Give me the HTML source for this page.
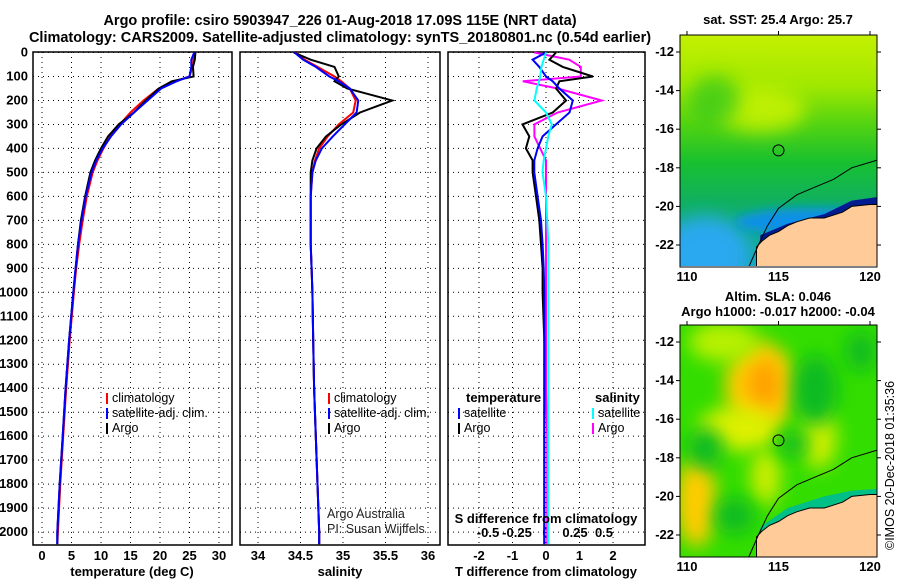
<!DOCTYPE html>
<html><head><meta charset="utf-8"><style>
body{margin:0;background:#fff}
svg{display:block;font-family:"Liberation Sans",sans-serif}
.t{font-weight:bold;font-size:13px}
.n{font-size:12.5px}
</style></head><body>
<svg id="s" width="900" height="580" viewBox="0 0 900 580">
<defs>
<filter id="bl" x="-50%" y="-50%" width="200%" height="200%"><feGaussianBlur stdDeviation="9"/></filter>
<filter id="bl2" x="-50%" y="-50%" width="200%" height="200%"><feGaussianBlur stdDeviation="5"/></filter>
<clipPath id="c1"><rect x="680" y="35" width="197" height="231"/></clipPath>
<clipPath id="c2"><rect x="680" y="325" width="197" height="232"/></clipPath>
<linearGradient id="sst" x1="0" y1="0" x2="0" y2="1">
<stop offset="0" stop-color="#c4f000"/><stop offset="0.22" stop-color="#a0e800"/><stop offset="0.38" stop-color="#55d410"/><stop offset="0.55" stop-color="#18c030"/><stop offset="0.72" stop-color="#10b060"/><stop offset="1" stop-color="#10a8b0"/>
</linearGradient>
</defs>
<text class="t" x="340" y="25" text-anchor="middle" style="font-size:14.5px">Argo profile: csiro 5903947_226 01-Aug-2018 17.09S 115E (NRT data)</text>
<text class="t" x="340" y="42" text-anchor="middle" style="font-size:14.5px">Climatology: CARS2009. Satellite-adjusted climatology: synTS_20180801.nc (0.54d earlier)</text>
<g id="g"></g>
</svg>
<script>
const depths=[0,30,60,100,120,150,200,250,300,350,400,450,500,600,700,800,900,1000,1200,1400,1600,1800,2000,2050];
const tClim=[25.8,25.7,25.5,25.0,22.5,19.8,17.2,15.0,13.2,11.6,10.4,9.4,8.6,7.6,6.9,6.3,5.8,5.4,4.7,4.1,3.6,3.1,2.7,2.6];
const tSat=[25.8,25.3,25.3,25.0,22.8,20.2,17.9,15.6,13.4,11.7,10.3,9.2,8.4,7.4,6.7,6.1,5.7,5.3,4.6,4.0,3.5,3.0,2.6,2.6];
const tArgo=[26.0,25.9,25.6,25.7,22.0,19.8,17.6,15.6,13.0,11.2,10.0,9.0,8.2,7.3,6.6,6.1,5.7,5.3,4.6,4.0,3.5,3.0,2.6,2.6];
const sClim=[34.45,34.55,34.70,34.90,34.98,35.08,35.15,35.12,34.95,34.82,34.72,34.67,34.64,34.62,34.62,34.62,34.63,34.64,34.65,34.66,34.68,34.70,34.72,34.72];
const sSat=[34.43,34.53,34.68,34.84,34.95,35.08,35.18,35.16,35.02,34.88,34.75,34.68,34.64,34.62,34.62,34.62,34.63,34.64,34.65,34.66,34.68,34.70,34.72,34.72];
const sArgo=[34.42,34.62,34.90,34.95,34.90,35.05,35.58,35.20,34.98,34.80,34.69,34.64,34.62,34.62,34.62,34.62,34.63,34.64,34.65,34.66,34.68,34.70,34.72,34.72];
const dtSat=[0.0,-0.4,-0.2,0.0,0.2,0.4,0.8,0.7,0.3,-0.1,-0.25,-0.35,-0.35,-0.25,-0.15,-0.1,-0.07,-0.05,-0.05,-0.05,-0.05,-0.05,-0.05,-0.05];
const dtArgo=[0.3,0.1,0.5,1.4,0.4,0.3,0.6,0.2,-0.7,-0.5,-0.6,-0.4,-0.4,-0.3,-0.2,-0.15,-0.1,-0.1,-0.05,-0.05,-0.05,-0.05,-0.05,-0.05];
const dsSat=[0.0,-0.02,-0.04,-0.05,-0.06,-0.08,-0.1,0.0,0.05,0.02,0.0,-0.02,-0.03,0.0,0.01,0.02,0.02,0.02,0.02,0.02,0.02,0.02,0.02,0.02];
const dsArgo=[-0.1,0.2,0.3,0.3,-0.2,0.1,0.48,0.1,-0.1,-0.1,-0.05,0.0,0.0,0.0,0.0,0.0,0.0,0.0,0.0,0.0,0.01,0.01,0.01,0.01];
const depthTicks=[0,100,200,300,400,500,600,700,800,900,1000,1100,1200,1300,1400,1500,1600,1700,1800,1900,2000];
const tTicks=[0,5,10,15,20,25,30];
const sTicks=[34,34.5,35,35.5,36];
const dtTicks=[-2,-1,0,1,2];
const dsTicks=["-0.5","-0.25","0","0.25","0.5"];

const NS='http://www.w3.org/2000/svg';
const G=document.getElementById('g');
function el(tag,at,txt){const e=document.createElementNS(NS,tag);for(const k in at)e.setAttribute(k,at[k]);if(txt!==undefined)e.textContent=txt;G.appendChild(e);return e;}
const Y=d=>52.5+d*0.2398;
const xT=v=>42+v*5.9, xS=v=>258+(v-34)*85, xDT=v=>546+v*33.5, xDS=v=>546+v*116;
const panels=[[33,232],[240,440],[448,645]];
panels.forEach((p,i)=>{
  const r=el('rect',{x:p[0],y:52,width:p[1]-p[0],height:493,fill:'none',stroke:'#000','stroke-width':1.5});
  
  
  depthTicks.forEach(d=>{
    const l=el('line',{x1:p[0],x2:p[1],y1:Y(d),y2:Y(d),stroke:'#000','stroke-dasharray':'1 4'});
    
    
  });
});
depthTicks.forEach(d=>{
  const t=el('text',{class:'t',x:28,y:Y(d)+4,'text-anchor':'end'},String(d));
  
  
});
function vgrid(ticks,fx,p,labs,ly){
  ticks.forEach((v,i)=>{
    const l=el('line',{x1:fx(v),x2:fx(v),y1:52,y2:545,stroke:'#000','stroke-dasharray':'1 4'});
    
    
    const t=el('text',{class:'t',x:fx(v),y:ly,'text-anchor':'middle'},labs?labs[i]:String(v));
    
    
  });
}
vgrid(tTicks,xT,0,null,560);
vgrid(sTicks,xS,1,null,560);
vgrid(dtTicks,xDT,2,null,560);
dsTicks.forEach(v=>{
  const t=el('text',{class:'t',x:xDS(parseFloat(v)),y:537,'text-anchor':'middle'},v);
  
  
});
[['temperature (deg C)',132],['salinity',340],['T difference from climatology',546]].forEach(a=>{
  const t=el('text',{class:'t',x:a[1],y:576,'text-anchor':'middle'},a[0]);
  
  
});
function line(vals,fx,color,name,w){
  const pts=vals.map((v,i)=>fx(v).toFixed(1)+','+Y(depths[i]).toFixed(1)).join(' ');
  const l=el('polyline',{points:pts,fill:'none',stroke:color,'stroke-width':w||2});
  
  
}
line(tClim,xT,'#f00','temp-climatology-line');
line(tArgo,xT,'#000','temp-argo-line');
line(tSat,xT,'#00f','temp-satellite-line');
line(sClim,xS,'#f00','sal-climatology-line');
line(sArgo,xS,'#000','sal-argo-line');
line(sSat,xS,'#00f','sal-satellite-line');
line(dsArgo,xDS,'#f0f','sdiff-argo-line');
line(dtArgo,xDT,'#000','tdiff-argo-line');
line(dtSat,xDT,'#00f','tdiff-satellite-line');
line(dsSat,xDS,'#0ff','sdiff-satellite-line');
function leg(x,y,color,label,anchor){
  const r=el('rect',{x:x,y:y-9,width:2,height:11,fill:color});
  
  
  const t=el('text',{class:'n',x:anchor==='end'?x-4:x+6,y:y,'text-anchor':anchor||'start'},label);
  
  
}
leg(106,402,'#f00','climatology');leg(106,417,'#00f','satellite-adj. clim.');leg(106,432,'#000','Argo');
leg(328,402,'#f00','climatology');leg(328,417,'#00f','satellite-adj. clim.');leg(328,432,'#000','Argo');
leg(458,417,'#00f','satellite');leg(458,432,'#000','Argo');
leg(592,417,'#0ff','satellite');leg(592,432,'#f0f','Argo');
[['temperature',466,402],['salinity',595,402]].forEach(a=>{
  const t=el('text',{class:'t',x:a[1],y:a[2]},a[0]);
  
  
});
[['Argo Australia',327,518],['PI: Susan Wijffels',327,533]].forEach(a=>{
  const t=el('text',{class:'n',x:a[1],y:a[2],fill:'#222'},a[0]);
  
  
});
const sd=el('text',{class:'t',x:546,y:523,'text-anchor':'middle'},'S difference from climatology');



const lonX=lon=>687+(lon-110)*18.3;
const coast=[[113.8,-23.3],[113.8,-22.1],[114.1,-21.8],[114.5,-21.5],[115,-21.3],[115.5,-21.0],[116,-20.8],[116.7,-20.6],[117.5,-20.6],[118.5,-20.3],[119,-20.0],[120,-19.9],[120.5,-19.9],[120.5,-23.3]];
const shelf=[[113.3,-23.3],[113.9,-22],[114.4,-21],[115,-20.1],[116,-19.4],[117,-19.0],[118,-18.6],[119,-18.0],[120.4,-17.6]];
function map(top,clip,kind){
  const latY=lat=>top+(-lat-12)*19.3;
  const P=a=>a.map(p=>lonX(p[0]).toFixed(1)+','+latY(p[1]).toFixed(1)).join(' ');
  const g=document.createElementNS(NS,'g');g.setAttribute('clip-path','url(#'+clip+')');G.appendChild(g);
  const add=(tag,at)=>{const e=document.createElementNS(NS,tag);for(const k in at)e.setAttribute(k,at[k]);g.appendChild(e);return e;};
  const y0=top-17;
  if(kind==='sst'){
    add('rect',{x:680,y:y0,width:197,height:232,fill:'url(#sst)'});
    add('ellipse',{cx:lonX(114),cy:latY(-15),rx:45,ry:22,fill:'#d0f400',filter:'url(#bl)','fill-opacity':0.8});
    add('ellipse',{cx:lonX(111.5),cy:latY(-14.5),rx:25,ry:25,fill:'#30c820',filter:'url(#bl)','fill-opacity':0.7});
    add('ellipse',{cx:lonX(111),cy:latY(-22.5),rx:45,ry:38,fill:'#2aa8f0',filter:'url(#bl)'});
    add('ellipse',{cx:lonX(117),cy:latY(-20.8),rx:80,ry:14,fill:'#1090e8',filter:'url(#bl2)'});
    add('polygon',{points:P([[114,-23],[114,-21.5],[115.5,-20.9],[117.5,-20.4],[119,-19.7],[120.5,-19.5],[120.5,-20.5],[116,-21.3],[114.5,-22.8]]),fill:'#001a90'});
  } else {
    add('rect',{x:680,y:y0,width:197,height:232,fill:'#33dd00'});
    [[114,-14.3,35,45,'#ffcc00'],[114.2,-14.2,16,25,'#ffa000'],[112.8,-16.5,40,22,'#ddf000'],[110.5,-20.3,20,45,'#ffcc00'],[117.2,-17,18,30,'#ccee00'],[114.3,-19,15,28,'#ccee00'],[112,-12,35,20,'#b8f000']].forEach(b=>{
      add('ellipse',{cx:lonX(b[0]),cy:latY(b[1]),rx:b[2],ry:b[3],fill:b[4],filter:'url(#bl)'});
    });
    [[117,-14.5,22,35],[111,-17.5,18,20],[115.8,-17.3,15,12],[112.6,-21,20,18],[119.5,-12.5,15,20]].forEach(b=>{
      add('ellipse',{cx:lonX(b[0]),cy:latY(b[1]),rx:b[2],ry:b[3],fill:'#11bb22',filter:'url(#bl)'});
    });
    add('polygon',{points:P([[114,-23],[114,-21.6],[115.5,-20.6],[117.5,-20.0],[119,-19.7],[120.5,-19.6],[120.5,-20.5],[116,-21.3],[114.5,-22.8]]),fill:'#00c088'});
  }
  const land=add('polygon',{points:P(coast),fill:'#ffcc99'});
  
  
  add('polyline',{points:P(shelf),fill:'none',stroke:'#000','stroke-width':1});
  add('polyline',{points:P(coast.slice(0,13)),fill:'none',stroke:'#000','stroke-width':1});
  const c=el('circle',{cx:lonX(115),cy:latY(-17.1),r:5.5,fill:'none',stroke:'#000','stroke-width':1});
  
  
  const fr=el('rect',{x:680,y:y0,width:197,height:232,fill:'none',stroke:'#000','stroke-width':1});
  
  
  [-12,-14,-16,-18,-20,-22].forEach(l=>{
    el('line',{x1:680,x2:676,y1:latY(l),y2:latY(l),stroke:'#000'});
    el('line',{x1:877,x2:881,y1:latY(l),y2:latY(l),stroke:'#000'});
    const t=el('text',{class:'t',x:674,y:latY(l)+4,'text-anchor':'end'},String(l));
    
    
  });
  [110,115,120].forEach(l=>{
    el('line',{x1:lonX(l),x2:lonX(l),y1:y0,y2:y0-4,stroke:'#000'});
    const t=el('text',{class:'t',x:lonX(l),y:y0+246,'text-anchor':'middle'},String(l));
    
    
  });
}
map(52,'c1','sst');
map(342,'c2','sla');
[['sat. SST: 25.4 Argo: 25.7',778,24],['Altim. SLA: 0.046',778,301],['Argo h1000: -0.017 h2000: -0.04',778,316]].forEach(a=>{
  const t=el('text',{class:'t',x:a[1],y:a[2],'text-anchor':'middle'},a[0]);
  
  
});
const cp=el('text',{class:'n',x:0,y:0,transform:'translate(894,550) rotate(-90)'},'©IMOS 20-Dec-2018 01:35:36');


</script>
</body></html>
